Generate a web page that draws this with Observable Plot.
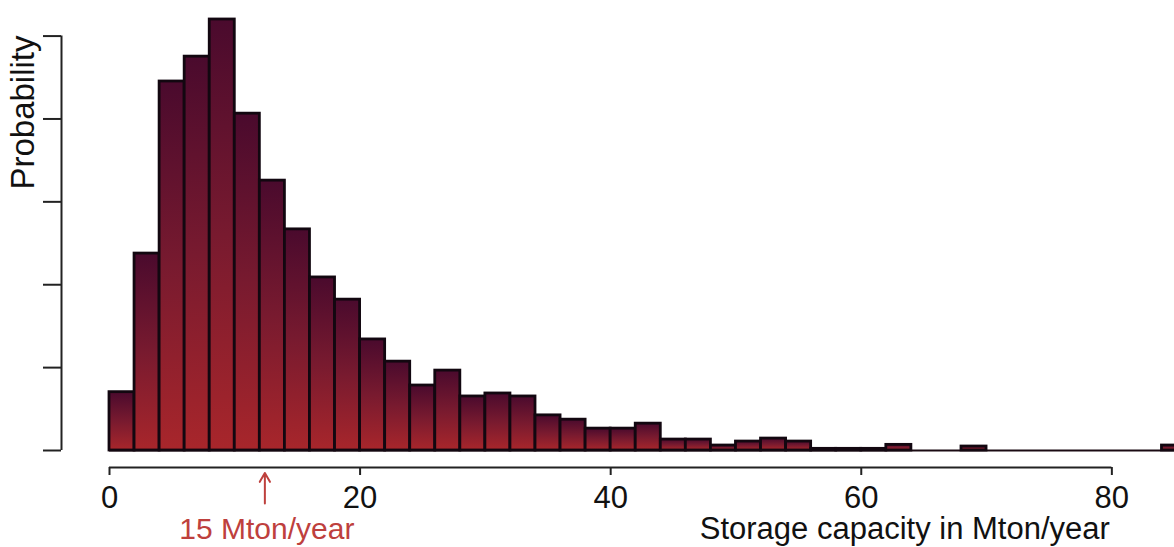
<!DOCTYPE html>
<html>
<head>
<meta charset="utf-8">
<script src="https://cdn.jsdelivr.net/npm/d3@7"></script>
<script src="https://cdn.jsdelivr.net/npm/@observablehq/plot@0.6"></script>
<style>
  html, body { margin: 0; padding: 0; background: #fff; }
  svg { display: block; }
</style>
</head>
<body>
<div id="chart"></div>
<script>
// Histogram bins (Mton/year), width 2
const binStart = [0,2,4,6,8,10,12,14,16,18,20,22,24,26,28,30,32,34,36,38,40,42,44,46,48,50,52,54,56,58,60,62,64,66,68,70,72,74,76,78,80,82,84];
const binWidth = 2;
// Probability per bin
const probability = [0.0176,0.0594,0.1113,0.1188,0.1300,0.1016,0.0814,0.0667,0.0522,0.0455,
  0.0335,0.0268,0.0196,0.0241,0.0163,0.0172,0.0163,0.0106,0.0093,0.0066,
  0.0066,0.0081,0.0033,0.0033,0.0015,0.0027,0.0036,0.0027,0.0005,0.0005,
  0.0005,0.0017,0,0,0.0012,0,0,0,0,0,0,0,0.0015];
const xTicks = [0, 20, 40, 60, 80];
const yTicks = [0, 0.025, 0.05, 0.075, 0.1, 0.125];
const xLabel = "Storage capacity in Mton/year";
const yLabel = "Probability";
const markerValue = 12.4;
const markerText = "15 Mton/year";

const bins = binStart.map((s, i) => ({x1: s, x2: s + binWidth, p: probability[i]}));
const annotations = [{x: markerValue, text: markerText}];

const font = "'Liberation Sans', Arial, Helvetica, sans-serif";
const axisColor = "#222";
const red = "#be403d";

const defs = () => {
  const d = d3.create("svg:defs");
  const g = d.append("linearGradient").attr("id", "barGrad")
    .attr("x1", 0).attr("y1", 0).attr("x2", 0).attr("y2", 1);
  g.append("stop").attr("offset", "0%").attr("stop-color", "#4a0a2d");
  g.append("stop").attr("offset", "50%").attr("stop-color", "#781a2f");
  g.append("stop").attr("offset", "100%").attr("stop-color", "#a8262b");
  return d.node();
};

const chart = Plot.plot({
  width: 1174,
  height: 547,
  marginLeft: 109,
  marginRight: 0,
  marginTop: 19,
  marginBottom: 97,
  style: {fontFamily: font, fontSize: "30px", color: axisColor, background: "#fff"},
  x: {domain: [0, 85]},
  y: {domain: [0, 0.13]},
  marks: [
    defs,
    Plot.ruleY([0], {x1: 0, x2: 86, stroke: "#1a0a12", strokeWidth: 2}),
    Plot.rectY(bins.filter(d => d.p > 0), {
      x1: "x1", x2: "x2", y: "p",
      fill: "url(#barGrad)", stroke: "#120710", strokeWidth: 2.8
    }),
    // y axis (R style, offset from the plot)
    Plot.ruleX([0], {y1: 0, y2: yTicks[yTicks.length - 1], dx: -48, stroke: axisColor, strokeWidth: 2}),
    Plot.axisY({ticks: yTicks, tickSize: 18, tickFormat: () => "", dx: -48, strokeWidth: 2, stroke: axisColor, label: null}),
    // x axis
    Plot.ruleY([0], {x1: xTicks[0], x2: xTicks[xTicks.length - 1], dy: 17, stroke: axisColor, strokeWidth: 2}),
    Plot.axisX({ticks: xTicks, tickSize: 8, tickPadding: 10, dy: 17, fontSize: 31, strokeWidth: 2, stroke: axisColor, fill: "#111", label: null}),
    // axis titles
    Plot.text([xLabel], {x: xTicks[xTicks.length - 1], y: 0, text: d => d, textAnchor: "end", lineAnchor: "middle", dy: 79, dx: -2, fontSize: 31, fill: "#111"}),
    Plot.text([yLabel], {frameAnchor: "top-left", text: d => d, rotate: -90, textAnchor: "end", lineAnchor: "middle", dx: -86, dy: 16, fontSize: 33, fill: "#111"}),
    // marker annotation
    Plot.arrow(annotations, {x1: "x", x2: "x", y1: -0.016, y2: -0.0068, stroke: red, strokeWidth: 2, headLength: 10, bend: 0}),
    Plot.text(annotations, {x: "x", y: 0, text: "text", textAnchor: "middle", lineAnchor: "middle", dy: 79, dx: 2, fontSize: 30, fill: red})
  ]
});
document.getElementById("chart").appendChild(chart);
</script>
</body>
</html>
